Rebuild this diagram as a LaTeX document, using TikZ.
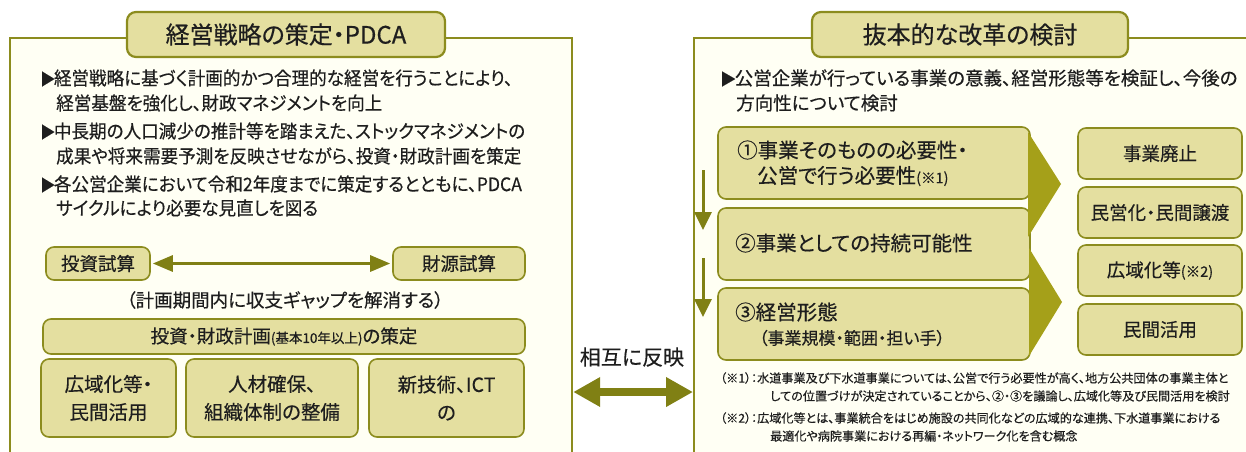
\documentclass[tikz,border=0pt]{standalone}
\usepackage{fontspec}
\setmainfont{Noto Sans CJK JP}[RawFeature=+palt, FakeBold=0.4]
\newfontfamily\lbody{Noto Sans CJK JP}[RawFeature=+palt, FakeBold=0.4, FakeStretch=0.95]
\usetikzlibrary{arrows.meta}
\definecolor{olv}{RGB}{140,140,30}
\definecolor{boxf}{RGB}{228,223,160}
\definecolor{panf}{RGB}{255,255,244}
\definecolor{chev}{RGB}{165,160,25}
\definecolor{arr}{RGB}{128,128,20}
\definecolor{txt}{RGB}{30,30,30}
\newcommand{\bul}{{\fontsize{16}{18}\selectfont ▶}\hspace{-0.08em}}
\begin{document}
\begin{tikzpicture}[x=1pt,y=-1pt,
  panel/.style={draw=olv, line width=2.2pt, fill=panf, anchor=north west, inner sep=0pt},
  titlebox/.style={draw=olv, line width=2.2pt, fill=boxf, rounded corners=9pt, text=txt, inner sep=0pt, font=\fontsize{24}{28}\selectfont},
  box/.style={draw=olv, line width=1.6pt, fill=boxf, rounded corners=8pt, text=txt, inner sep=0pt, align=center},
  bodyl/.style={anchor=west, inner sep=0pt, text=txt, font=\fontsize{18.5}{22}\selectfont},
  lbodyl/.style={anchor=west, inner sep=0pt, text=txt, font=\lbody\fontsize{18.5}{22}\selectfont},
  notel/.style={anchor=west, inner sep=0pt, text=txt, font=\fontsize{12.1}{14}\selectfont},
  harr/.style={draw=arr, line width=3pt, {Triangle[length=20pt,width=16pt]}-{Triangle[length=20pt,width=16pt]}, shorten <=2pt, shorten >=2pt},
  varr/.style={draw=arr, line width=3pt, -{Triangle[length=18pt,width=17pt]}},
  bigarr/.style={draw=arr, line width=8pt, {Triangle[length=27pt,width=28pt]}-{Triangle[length=27pt,width=28pt]}},
  chevron/.style={fill=chev}
]
\useasboundingbox (0,0) rectangle (1246,451);
% panels
\node[panel, minimum width=562pt, minimum height=450pt] (lp) at (9,37) {};
\node[panel, minimum width=560pt, minimum height=450pt] (rp) at (693,37) {};
% titles
\node[titlebox, minimum width=318pt, minimum height=45pt] (lt) at (286,34.5) {経営戦略の策定・PDCA};
\node[titlebox, minimum width=316pt, minimum height=45pt] (rt) at (970,34.5) {抜本的な改革の検討};
% left bullets
\node[lbodyl] (la1) at (40,78) {\bul 経営戦略に基づく計画的かつ合理的な経営を行うことにより、};
\node[lbodyl] (la2) at (56,103) {経営基盤を強化し、財政マネジメントを向上};
\node[lbodyl] (lb1) at (40,131) {\bul 中長期の人口減少の推計等を踏まえた、ストックマネジメントの};
\node[lbodyl] (lb2) at (56,156) {成果や将来需要予測を反映させながら、投資・財政計画を策定};
\node[lbodyl] (lc1) at (40,184) {\bul 各公営企業において令和2年度までに策定するとともに、PDCA};
\node[lbodyl] (lc2) at (56,208) {サイクルにより必要な見直しを図る};
% left boxes
\node[box, minimum width=104pt, minimum height=33pt, font=\fontsize{18.5}{22}\selectfont] (tos) at (98,263.5) {投資試算};
\node[box, minimum width=132pt, minimum height=33pt, font=\fontsize{18.5}{22}\selectfont] (zai) at (459,263.5) {財源試算};
\draw[harr] (tos) -- (zai);
\node[text=txt, inner sep=0pt, font=\fontsize{18.5}{22}\selectfont] (gap) at (285,300) {（計画期間内に収支ギャップを解消する）};
\node[box, minimum width=482pt, minimum height=35pt, font=\fontsize{18.5}{22}\selectfont] (plan) at (284,336.5) {投資・財政計画{\fontsize{13.5}{15}\selectfont(基本10年以上)}の策定};
\node[box, minimum width=135pt, minimum height=78pt, font=\fontsize{19.5}{28}\selectfont] (b1) at (108.5,398) {広域化等・\\民間活用};
\node[box, minimum width=172pt, minimum height=78pt, font=\fontsize{19.5}{28}\selectfont] (b2) at (272,398) {人材確保、\\組織体制の整備};
\node[box, minimum width=155pt, minimum height=78pt, font=\fontsize{19.5}{28}\selectfont] (b3) at (446.5,398) {新技術、ICT\\の};
% middle
\node[text=txt, inner sep=0pt, font=\fontsize{21}{24}\selectfont] (mut) at (632,357) {相互に反映};
\coordinate (mid) at (632,392);
\draw[bigarr] (lp.east |- mid) -- (rp.west |- mid);
% right bullets
\node[bodyl] (ra1) at (720,78) {\bul 公営企業が行っている事業の意義、経営形態等を検証し、今後の};
\node[bodyl] (ra2) at (736,103) {方向性について検討};
% right steps
\node[box, minimum width=312pt, minimum height=72pt] (r1) at (874,163) {};
\node[box, minimum width=312pt, minimum height=72pt] (r2) at (874,244) {};
\node[box, minimum width=312pt, minimum height=72pt] (r3) at (874,324) {};
\node[bodyl, font=\fontsize{20.5}{24}\selectfont] (r1a) at (737,150) {①事業そのものの必要性・};
\node[bodyl, font=\fontsize{20.5}{24}\selectfont] (r1b) at (757,176) {公営で行う必要性{\fontsize{14.5}{16}\selectfont(※1)}};
\node[bodyl, font=\fontsize{20.5}{24}\selectfont] (r2a) at (735,243) {②事業としての持続可能性};
\node[bodyl, font=\fontsize{20.5}{24}\selectfont] (r3a) at (735,312) {③経営形態};
\node[text=txt, inner sep=0pt, font=\fontsize{17}{20}\selectfont] (r3b) at (852,338) {（事業規模・範囲・担い手）};
% down arrows
\coordinate (d1s) at (703,170);
\coordinate (d1e) at (703,230);
\coordinate (d2s) at (703,258);
\coordinate (d2e) at (703,317);
\draw[varr] (d1s) -- (d1e);
\draw[varr] (d2s) -- (d2e);
% chevrons
\fill[chevron] (1028,132) -- (1061,184) -- (1028,237) -- cycle;
\fill[chevron] (1029,248) -- (1062,302) -- (1029,356) -- cycle;
% outcomes
\node[box, minimum width=164pt, minimum height=51pt, font=\fontsize{18.5}{22}\selectfont] (o1) at (1160,153.5) {事業廃止};
\node[box, minimum width=164pt, minimum height=51pt, font=\fontsize{18.5}{22}\selectfont] (o2) at (1160,212.5) {民営化・民間譲渡};
\node[box, minimum width=164pt, minimum height=51pt, font=\fontsize{18.5}{22}\selectfont] (o3) at (1160,270.5) {広域化等{\fontsize{14.5}{16}\selectfont(※2)}};
\node[box, minimum width=164pt, minimum height=51pt, font=\fontsize{18.5}{22}\selectfont] (o4) at (1160,329.5) {民間活用};
% notes
\node[notel] (n1a) at (720,378) {（※1）：水道事業及び下水道事業については、公営で行う必要性が高く、地方公共団体の事業主体と};
\node[notel] (n1b) at (770,396) {しての位置づけが決定されていることから、②・③を議論し、広域化等及び民間活用を検討};
\node[notel] (n2a) at (720,418) {（※2）：広域化等とは、事業統合をはじめ施設の共同化などの広域的な連携、下水道事業における};
\node[notel] (n2b) at (770,436) {最適化や病院事業における再編・ネットワーク化を含む概念};
\end{tikzpicture}
\end{document}
